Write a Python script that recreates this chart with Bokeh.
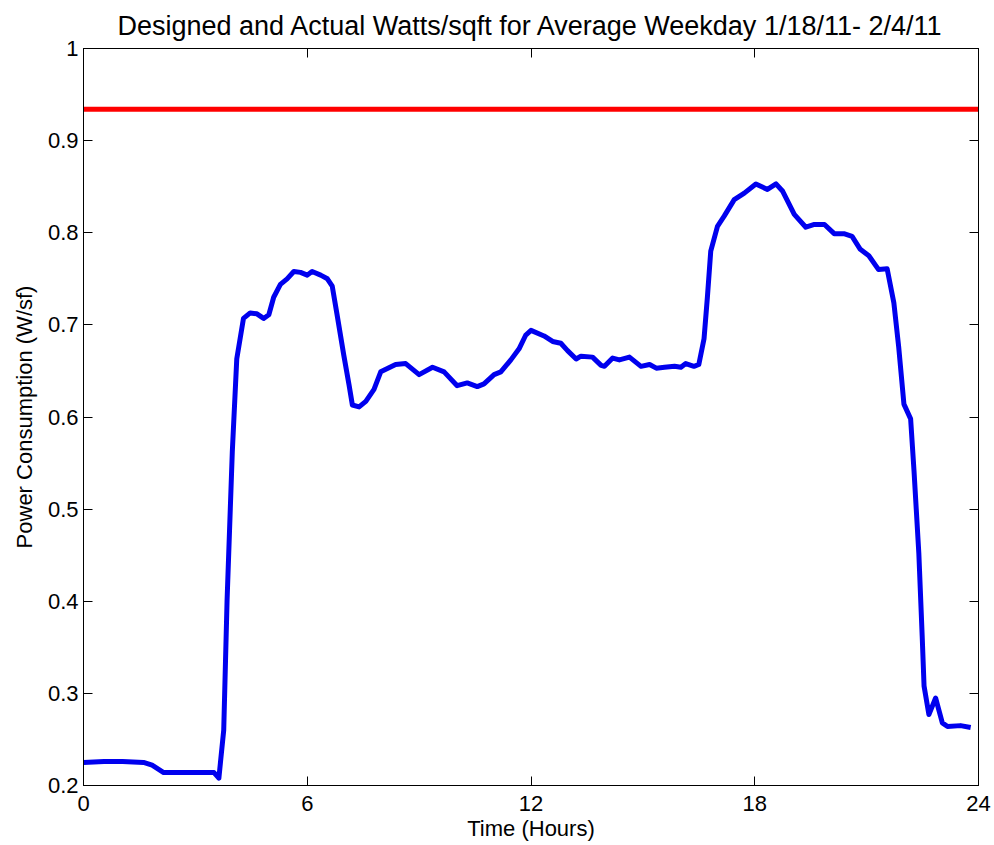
from bokeh.plotting import figure
from bokeh.models import Range1d, LinearAxis, FixedTicker
from bokeh.embed import file_html
from bokeh.resources import INLINE

# ---- data ----
hours = [0.0, 0.55, 1.05, 1.61, 1.84, 2.15, 2.57, 3.07, 3.50, 3.63,
         3.76, 3.85, 3.99, 4.11, 4.29, 4.47, 4.65, 4.83, 4.97, 5.10,
         5.28, 5.46, 5.64, 5.82, 6.00, 6.13, 6.36, 6.54, 6.67, 6.80,
         6.98, 7.12, 7.21, 7.39, 7.57, 7.79, 7.97, 8.37, 8.64, 9.00,
         9.36, 9.67, 10.02, 10.29, 10.56, 10.74, 11.01, 11.19, 11.46, 11.68,
         11.86, 12.00, 12.35, 12.58, 12.80, 12.98, 13.21, 13.34, 13.65, 13.88,
         13.97, 14.19, 14.37, 14.64, 14.95, 15.18, 15.36, 15.58, 15.85, 16.02,
         16.15, 16.37, 16.50, 16.64, 16.73, 16.82, 17.00, 17.18, 17.45, 17.72,
         18.03, 18.34, 18.57, 18.75, 19.06, 19.37, 19.60, 19.87, 20.13, 20.39,
         20.61, 20.83, 21.06, 21.32, 21.55, 21.73, 21.86, 22.00, 22.18, 22.27,
         22.40, 22.49, 22.54, 22.67, 22.85, 23.03, 23.17, 23.52, 23.79]

watts = [0.225, 0.226, 0.226, 0.225, 0.222, 0.214, 0.214, 0.214, 0.214, 0.208,
         0.260, 0.401, 0.562, 0.663, 0.707, 0.713, 0.712, 0.707, 0.711, 0.730,
         0.744, 0.750, 0.758, 0.757, 0.754, 0.758, 0.754, 0.750, 0.742, 0.711,
         0.667, 0.635, 0.613, 0.611, 0.617, 0.630, 0.649, 0.657, 0.658, 0.646,
         0.654, 0.649, 0.634, 0.637, 0.633, 0.636, 0.646, 0.649, 0.662, 0.674,
         0.689, 0.694, 0.688, 0.682, 0.680, 0.672, 0.663, 0.666, 0.665, 0.656,
         0.655, 0.664, 0.662, 0.665, 0.655, 0.657, 0.653, 0.654, 0.655, 0.654,
         0.658, 0.655, 0.657, 0.685, 0.730, 0.780, 0.807, 0.818, 0.836, 0.843,
         0.853, 0.847, 0.853, 0.845, 0.820, 0.806, 0.809, 0.809, 0.799, 0.799,
         0.796, 0.782, 0.775, 0.760, 0.761, 0.724, 0.676, 0.614, 0.598, 0.542,
         0.452, 0.362, 0.308, 0.277, 0.295, 0.268, 0.264, 0.265, 0.263]

design_hours = [0, 24]
design_watts = [0.934, 0.934]

x_ticks = [0, 6, 12, 18, 24]
y_ticks = [0.2, 0.3, 0.4, 0.5, 0.6, 0.7, 0.8, 0.9, 1.0]
y_tick_labels = {1.0: "1"}

title_text = "Designed and Actual Watts/sqft for Average Weekday 1/18/11- 2/4/11"
x_label = "Time (Hours)"
y_label = "Power Consumption (W/sf)"

FONT = "Liberation Sans"

p = figure(width=994, height=845, output_backend="svg", toolbar_location=None,
           x_range=Range1d(0, 24), y_range=Range1d(0.2, 1.0),
           title=title_text,
           min_border_left=83, min_border_right=16,
           min_border_top=47, min_border_bottom=60)

p.background_fill_color = "white"
p.border_fill_color = "white"
p.outline_line_color = "black"
p.outline_line_width = 1
p.xgrid.visible = False
p.ygrid.visible = False

p.title.text_font = FONT
p.title.text_font_size = "27px"
p.title.text_font_style = "normal"
p.title.text_color = "black"
p.title.align = "center"
p.title.standoff = 16

def style_axis(ax, show_labels, standoff=6):
    ax.major_tick_in = 9
    ax.major_tick_out = 0
    ax.minor_tick_line_color = None
    ax.axis_line_color = "black"
    ax.major_tick_line_color = "black"
    ax.major_label_text_font = FONT
    ax.major_label_text_color = "black"
    if show_labels:
        ax.major_label_text_font_size = "22px"
        ax.major_label_standoff = standoff
    else:
        ax.major_label_text_font_size = "0px"
        ax.major_label_standoff = 0
        ax.major_label_text_alpha = 0

xa = p.xaxis[0]
xa.ticker = FixedTicker(ticks=x_ticks)
style_axis(xa, True, standoff=10)
xa.axis_label = x_label
xa.axis_label_text_font = FONT
xa.axis_label_text_font_size = "22px"
xa.axis_label_text_font_style = "normal"
xa.axis_label_text_color = "black"
xa.axis_label_standoff = 2

ya = p.yaxis[0]
ya.ticker = FixedTicker(ticks=y_ticks)
ya.major_label_overrides = y_tick_labels
style_axis(ya, True, standoff=5)
ya.axis_label = y_label
ya.axis_label_text_font = FONT
ya.axis_label_text_font_size = "22px"
ya.axis_label_text_font_style = "normal"
ya.axis_label_text_color = "black"
ya.axis_label_standoff = 8

top = LinearAxis(ticker=FixedTicker(ticks=x_ticks))
style_axis(top, False)
p.add_layout(top, "above")

right = LinearAxis(ticker=FixedTicker(ticks=y_ticks))
style_axis(right, False)
p.add_layout(right, "right")

p.line(design_hours, design_watts, line_color="#FF0000", line_width=5)
p.line(hours, watts, line_color="#0000EE", line_width=5, line_join="round")

open("out.html", "w").write(file_html(p, INLINE))
